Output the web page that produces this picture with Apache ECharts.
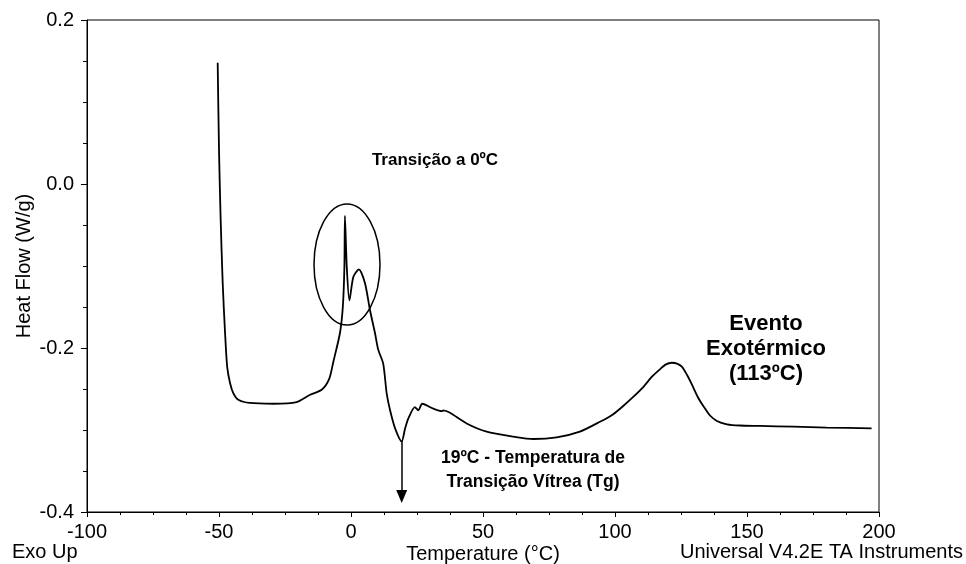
<!DOCTYPE html>
<html>
<head>
<meta charset="utf-8">
<script src="https://cdn.jsdelivr.net/npm/echarts@6/dist/echarts.min.js"></script>
<style>
  html, body { margin: 0; padding: 0; background: #fff; }
  #chart { width: 966px; height: 564px; }
</style>
</head>
<body>
<div id="chart"></div>
<script>
// DSC trace
const tempC = [
  -50.5, -50.0, -49.4, -48.6, -47.7, -46.9, -45.8, -44.6, -42.7, -38.3, -29.4, -20.6, -15.5, -11.1,
  -8.3, -6.7, -4.2, -3.1, -2.5, -2.3, -1.6, -0.6, 0.9, 3.0, 5.3, 7.2, 9.1, 10.3, 12.2,
  13.5, 14.8, 16.7, 19.2, 20.5, 21.7, 24.2, 25.5, 27.0, 31.2, 34.4, 35.0, 37.5,
  43.8, 51.4, 61.5, 69.1, 77.9, 86.7, 94.3, 99.2, 103.0, 106.8, 110.6, 114.0, 117.0,
  119.3, 121.5, 123.5, 125.4, 127.3, 129.2, 131.4, 133.7, 135.9, 138.6, 142.4, 147.3,
  154.9, 167.5, 180.2, 197.2
];
const heatFlow = [
  0.148, 0.042, -0.040, -0.121, -0.182, -0.223, -0.243, -0.255, -0.263, -0.267, -0.268, -0.266, -0.257, -0.251,
  -0.238, -0.217, -0.182, -0.150, -0.101, -0.039, -0.101, -0.142, -0.113, -0.104, -0.121, -0.154, -0.182, -0.202, -0.219,
  -0.255, -0.276, -0.298, -0.314, -0.298, -0.286, -0.272, -0.276, -0.268, -0.274, -0.277, -0.276, -0.279,
  -0.292, -0.302, -0.308, -0.311, -0.309, -0.302, -0.290, -0.281, -0.271, -0.260, -0.248, -0.235, -0.226,
  -0.220, -0.218, -0.219, -0.223, -0.233, -0.245, -0.260, -0.272, -0.282, -0.289, -0.293, -0.2945,
  -0.295, -0.296, -0.297, -0.298
];
const xTicks = [-100, 200, 50];   // min, max, interval
const yTicks = [-0.4, 0.2, 0.2];

const font = "'Liberation Sans', Arial, sans-serif";
const chart = echarts.init(document.getElementById("chart"), null, { renderer: "canvas" });

const points = tempC.map((t, i) => [t, heatFlow[i]]);

chart.setOption({
  backgroundColor: "#fff",
  animation: false,
  textStyle: { fontFamily: font },
  grid: {
    left: 87, right: 87, top: 20, bottom: 52,
    outerBoundsMode: "none",
    containLabel: false,
    show: true, borderColor: "#000", borderWidth: 1, backgroundColor: "transparent"
  },
  xAxis: {
    type: "value",
    min: xTicks[0], max: xTicks[1], interval: xTicks[2],
    name: "Temperature (°C)",
    nameLocation: "middle",
    nameGap: 32,
    nameMoveOverlap: false,
    nameTextStyle: { color: "#000", fontSize: 20, fontFamily: font },
    axisLine: { onZero: false, lineStyle: { color: "#000", width: 1 } },
    axisTick: { inside: false, length: 5, lineStyle: { color: "#000" } },
    minorTick: { show: true, splitNumber: 4, length: 3, lineStyle: { color: "#000" } },
    splitLine: { show: false },
    axisLabel: { color: "#000", fontSize: 20, margin: 10, fontFamily: font }
  },
  yAxis: {
    type: "value",
    min: yTicks[0], max: yTicks[1], interval: yTicks[2],
    name: "Heat Flow (W/g)",
    nameLocation: "middle",
    nameGap: 53,
    nameMoveOverlap: false,
    nameTextStyle: { color: "#000", fontSize: 20, fontFamily: font },
    axisLine: { show: true, onZero: false, lineStyle: { color: "#000", width: 1 } },
    axisTick: { show: true, inside: false, length: 6, lineStyle: { color: "#000" } },
    minorTick: { show: true, splitNumber: 4, length: 4, lineStyle: { color: "#000" } },
    splitLine: { show: false },
    axisLabel: {
      color: "#000", fontSize: 20, margin: 13, fontFamily: font,
      formatter: (v) => v.toFixed(1)
    }
  },
  series: [{
    type: "line",
    data: points,
    showSymbol: false,
    smooth: 0.25,
    lineStyle: { color: "#000", width: 1.8 },
    markLine: {
      silent: true,
      symbol: ["none", "triangle"],
      symbolSize: [11, 13],
      label: { show: false },
      lineStyle: { color: "#000", width: 1.5, type: "solid" },
      data: [[{ coord: [19.2, -0.314] }, { coord: [19.2, -0.381] }]]
    }
  }],
  graphic: [
    {
      type: "ellipse",
      shape: { cx: 347, cy: 264.5, rx: 33, ry: 60.5 },
      style: { fill: "none", stroke: "#000", lineWidth: 1.5 }
    },
    {
      type: "text", x: 435, y: 160,
      style: { text: "Transição a 0ºC", font: "bold 17px " + font, fill: "#000", align: "center", verticalAlign: "middle" }
    },
    {
      type: "text", x: 533, y: 470,
      style: {
        text: "19ºC - Temperatura de\nTransição Vítrea (Tg)", font: "bold 17.5px " + font,
        fill: "#000", align: "center", verticalAlign: "middle", lineHeight: 24
      }
    },
    {
      type: "text", x: 766, y: 349,
      style: {
        text: "Evento\nExotérmico\n(113ºC)", font: "bold 22px " + font,
        fill: "#000", align: "center", verticalAlign: "middle", lineHeight: 25
      }
    },
    {
      type: "text", x: 12, y: 552,
      style: { text: "Exo Up", font: "20px " + font, fill: "#000", align: "left", verticalAlign: "middle" }
    },
    {
      type: "text", x: 963, y: 552,
      style: { text: "Universal V4.2E TA Instruments", font: "20px " + font, fill: "#000", align: "right", verticalAlign: "middle" }
    }
  ]
});
</script>
</body>
</html>
